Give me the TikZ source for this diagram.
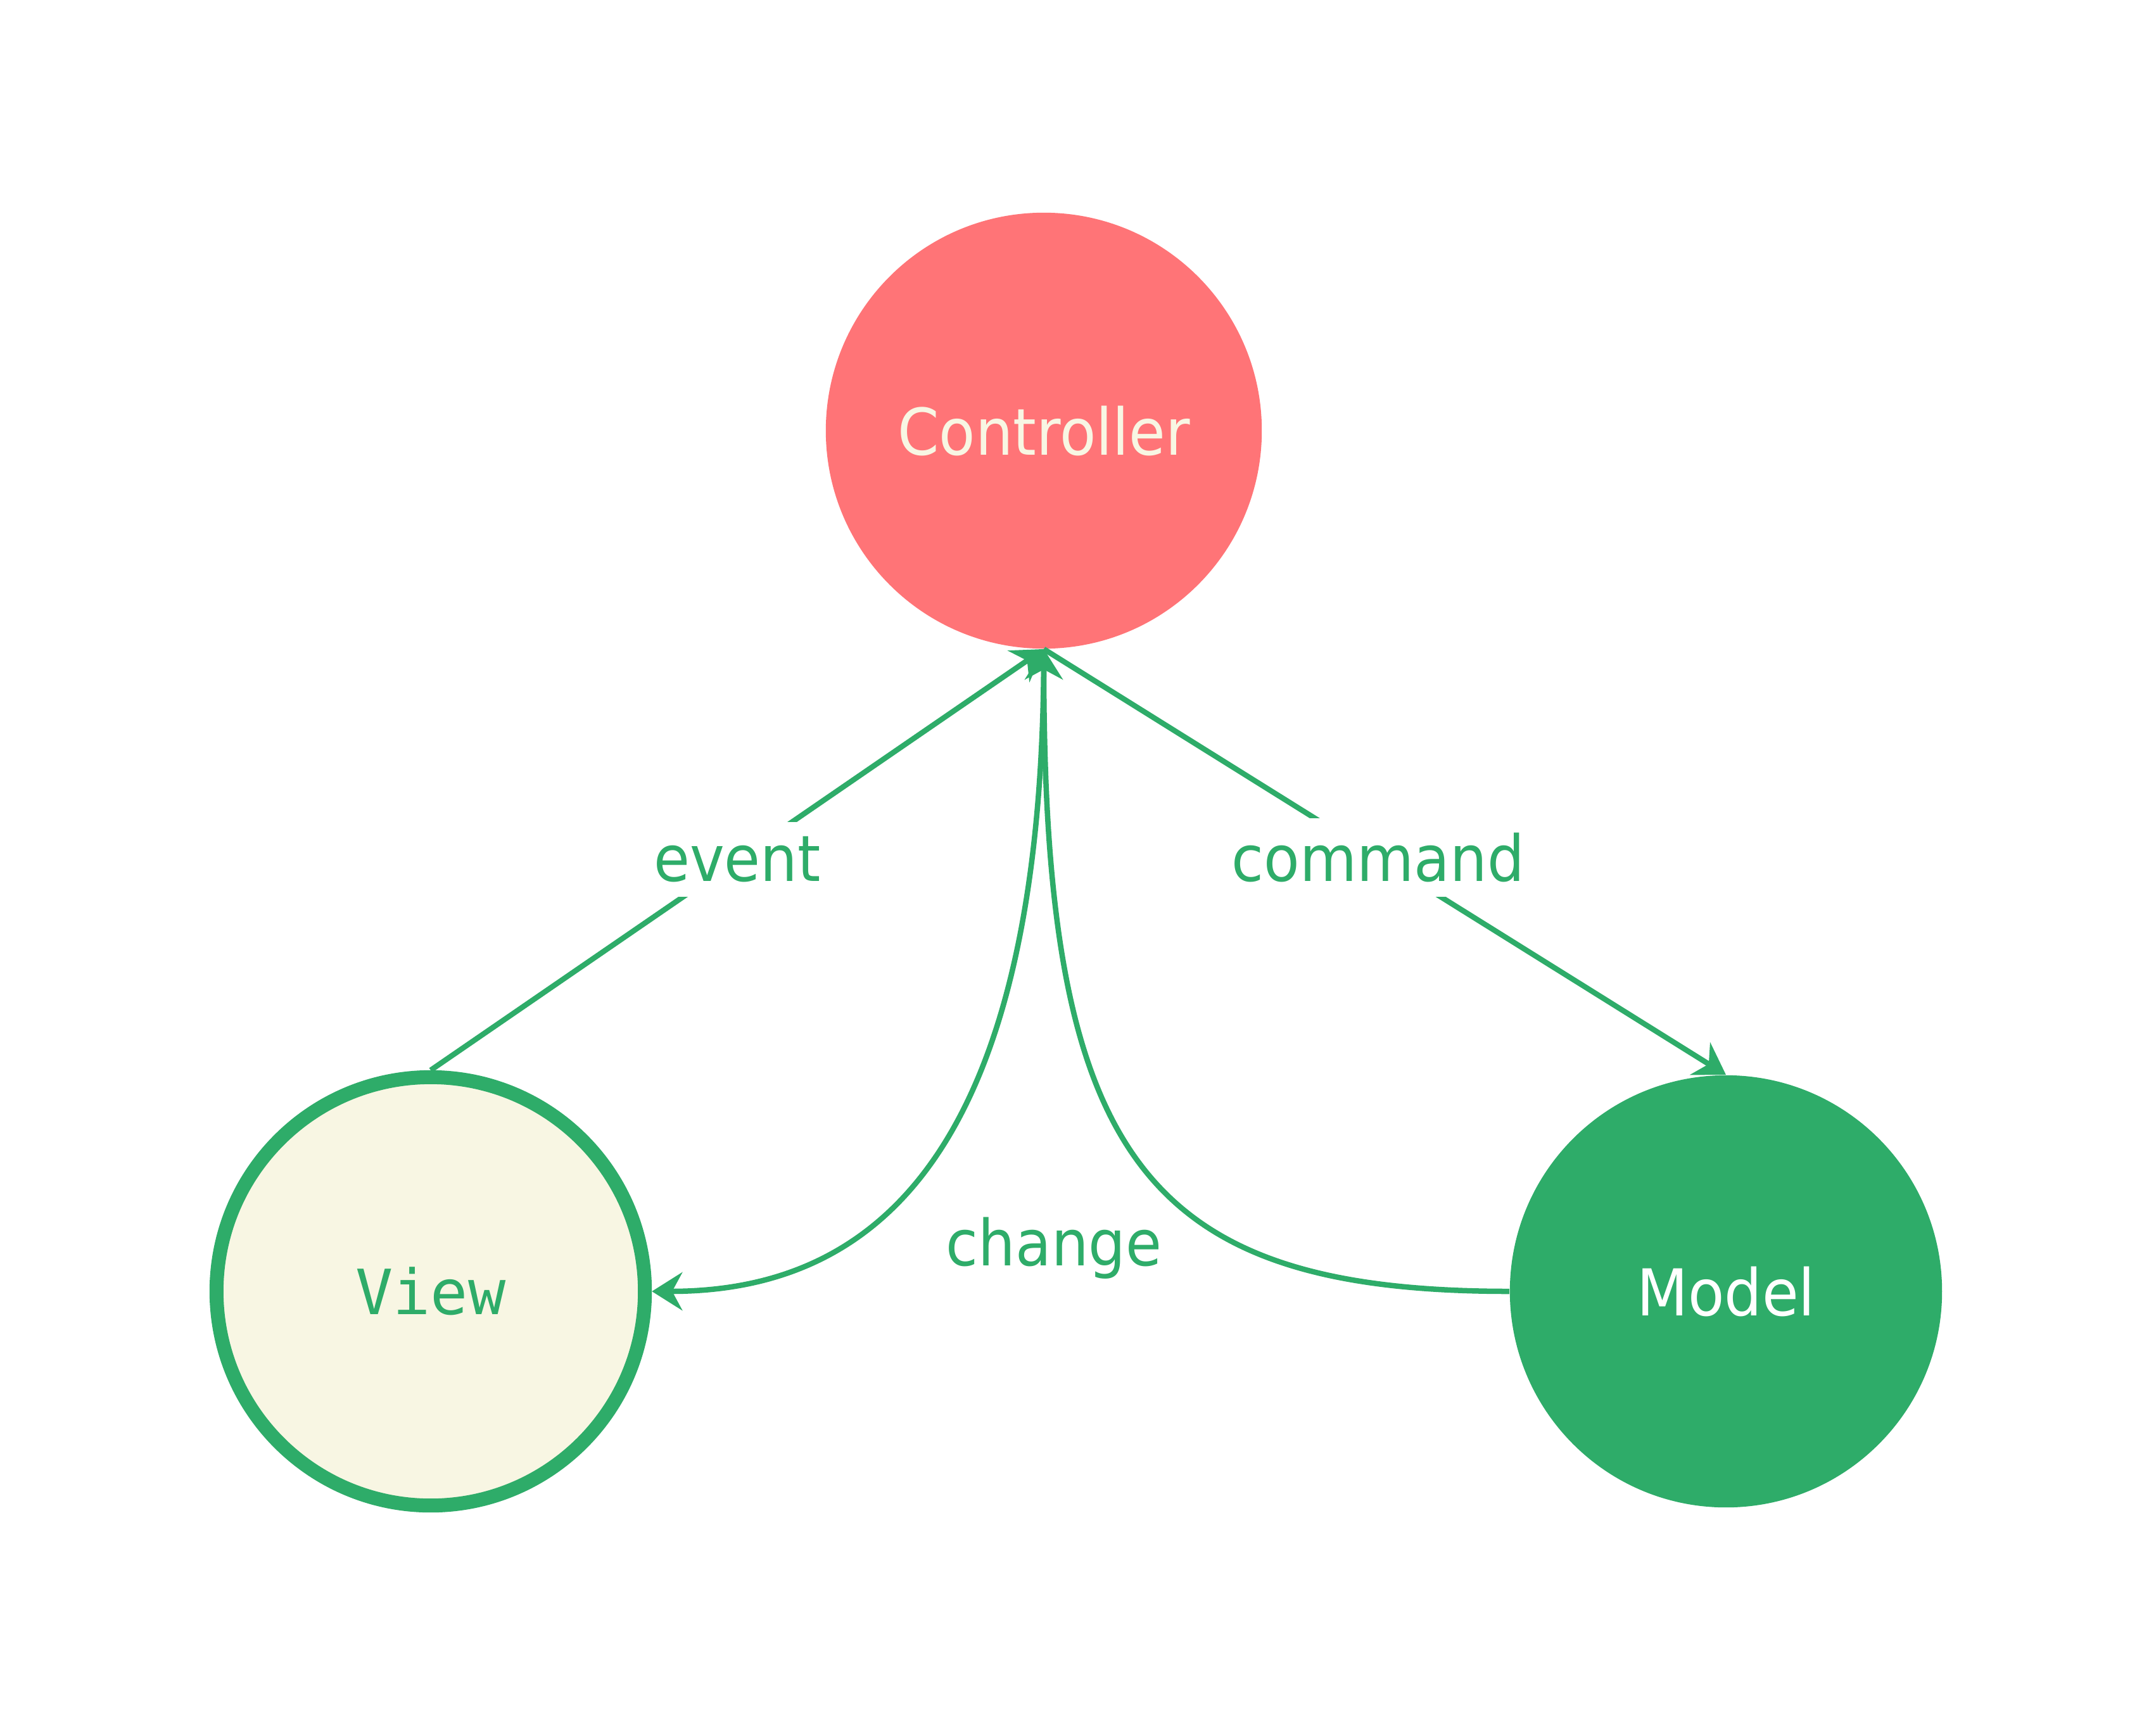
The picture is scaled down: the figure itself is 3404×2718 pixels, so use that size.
\documentclass[tikz,border=0pt]{standalone}
\usepackage{fontspec}
\setmainfont{DejaVu Sans}[FakeStretch=0.92]
\newfontfamily\viewfont{DejaVu Sans Mono}
\usetikzlibrary{arrows.meta}
\pgfdeclarelayer{nodelayer}
\pgfdeclarelayer{edgelayer}
\pgfsetlayers{main,nodelayer,edgelayer}
\definecolor{mvcred}{HTML}{FF7477}
\definecolor{mvcgreen}{HTML}{2EAC69}
\definecolor{mvccream}{HTML}{F8F6E3}
\tikzstyle{controller}=[fill=mvcred, draw=none, shape=circle, minimum size=6.88cm, inner sep=0pt, text=mvccream, font=\fontsize{29pt}{32pt}\selectfont]
\tikzstyle{view}=[fill=mvccream, draw=mvcgreen, line width=0.22cm, shape=circle, minimum size=6.76cm, inner sep=0pt, text=mvcgreen, font=\viewfont\fontsize{28pt}{30pt}\selectfont]
\tikzstyle{model}=[fill=mvcgreen, draw=none, shape=circle, minimum size=6.82cm, inner sep=0pt, text=white, font=\fontsize{29pt}{32pt}\selectfont]
\tikzstyle{edge label}=[fill=white, text=mvcgreen, inner xsep=0.15cm, inner ysep=0.23cm, font=\fontsize{28.6pt}{30pt}\selectfont]
\tikzstyle{flow edge}=[draw=mvcgreen, line width=0.085cm, -{Stealth[length=0.48cm, width=0.6cm, inset=0.16cm]}]

\begin{document}
\begin{tikzpicture}[x=0.01cm, y=-0.01cm]
	\fill [white] (0, 0) rectangle (3404, 2718);
	\useasboundingbox (0, 0) rectangle (3404, 2718);
	\begin{pgfonlayer}{nodelayer}
		\node [style=controller] (0) at (1648, 680) {Controller};
		\node [style=view] (1) at (680, 2039) {View};
		\node [style=model] (2) at (2725, 2039) {Model};
		\node [style=edge label, anchor=base] (3) at (1664, 1998) {change};
	\end{pgfonlayer}
	\begin{pgfonlayer}{edgelayer}
		\draw [style=flow edge] (1.north) to node [style=edge label] {event} (0.south);
		\draw [style=flow edge] (0.south) to node [style=edge label, pos=0.49] {command} (2.north);
		\draw [style=flow edge] (2.west) .. controls +(-580, 0) and +(0, 800) .. (0.south);
		\draw [style=flow edge] (0.south) .. controls +(0, 800) and +(350, 0) .. (1.east);
	\end{pgfonlayer}
\end{tikzpicture}
\end{document}
